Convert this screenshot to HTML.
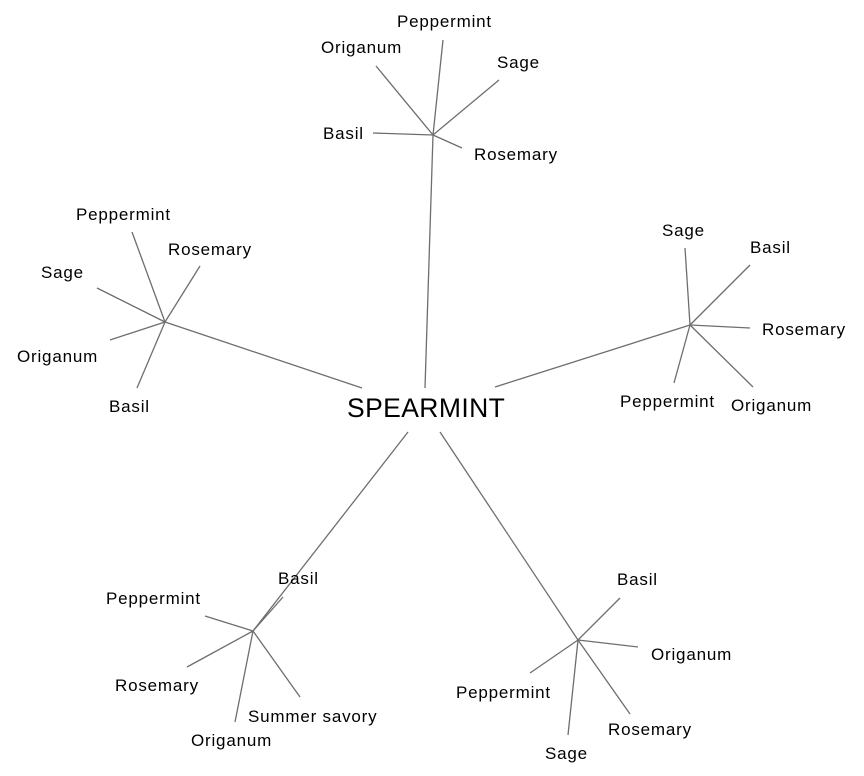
<!DOCTYPE html>
<html><head><style>html,body{margin:0;padding:0;background:#fff}</style></head>
<body>
<svg width="864" height="776" xmlns="http://www.w3.org/2000/svg" style="display:block">
<g stroke="#6e6e6e" stroke-width="1.3" fill="none">
<line x1="425" y1="388" x2="433" y2="135"/>
<line x1="362" y1="388" x2="165" y2="322"/>
<line x1="495" y1="387" x2="690" y2="325"/>
<line x1="408" y1="432" x2="253" y2="631"/>
<line x1="440" y1="432" x2="578" y2="640"/>
<line x1="433" y1="135" x2="376" y2="66"/>
<line x1="433" y1="135" x2="443" y2="40"/>
<line x1="433" y1="135" x2="499" y2="80"/>
<line x1="433" y1="135" x2="373" y2="133"/>
<line x1="433" y1="135" x2="462" y2="148"/>
<line x1="165" y1="322" x2="132" y2="232"/>
<line x1="165" y1="322" x2="200" y2="266"/>
<line x1="165" y1="322" x2="97" y2="288"/>
<line x1="165" y1="322" x2="110" y2="340"/>
<line x1="165" y1="322" x2="137" y2="388"/>
<line x1="690" y1="325" x2="685" y2="248"/>
<line x1="690" y1="325" x2="750" y2="265"/>
<line x1="690" y1="325" x2="750" y2="328"/>
<line x1="690" y1="325" x2="753" y2="387"/>
<line x1="690" y1="325" x2="674" y2="383"/>
<line x1="253" y1="631" x2="283" y2="597"/>
<line x1="253" y1="631" x2="205" y2="616"/>
<line x1="253" y1="631" x2="187" y2="667"/>
<line x1="253" y1="631" x2="235" y2="722"/>
<line x1="253" y1="631" x2="300" y2="697"/>
<line x1="578" y1="640" x2="620" y2="598"/>
<line x1="578" y1="640" x2="638" y2="647"/>
<line x1="578" y1="640" x2="530" y2="673"/>
<line x1="578" y1="640" x2="630" y2="714"/>
<line x1="578" y1="640" x2="568" y2="735"/>
</g>
<g font-family="Liberation Sans, Arial, sans-serif" font-size="17" fill="#000" letter-spacing="0.8">
<text x="347" y="417" font-size="26.5" letter-spacing="0.4">SPEARMINT</text>
<text x="397" y="27">Peppermint</text>
<text x="321" y="53">Origanum</text>
<text x="497" y="68">Sage</text>
<text x="323" y="139">Basil</text>
<text x="474" y="160">Rosemary</text>
<text x="76" y="220">Peppermint</text>
<text x="168" y="255">Rosemary</text>
<text x="41" y="278">Sage</text>
<text x="17" y="362">Origanum</text>
<text x="109" y="412">Basil</text>
<text x="662" y="236">Sage</text>
<text x="750" y="253">Basil</text>
<text x="762" y="335">Rosemary</text>
<text x="620" y="407">Peppermint</text>
<text x="731" y="411">Origanum</text>
<text x="278" y="584">Basil</text>
<text x="106" y="604">Peppermint</text>
<text x="115" y="691">Rosemary</text>
<text x="248" y="722">Summer savory</text>
<text x="191" y="746">Origanum</text>
<text x="617" y="585">Basil</text>
<text x="651" y="660">Origanum</text>
<text x="456" y="698">Peppermint</text>
<text x="608" y="735">Rosemary</text>
<text x="545" y="759">Sage</text>
</g>
</svg>
</body></html>
